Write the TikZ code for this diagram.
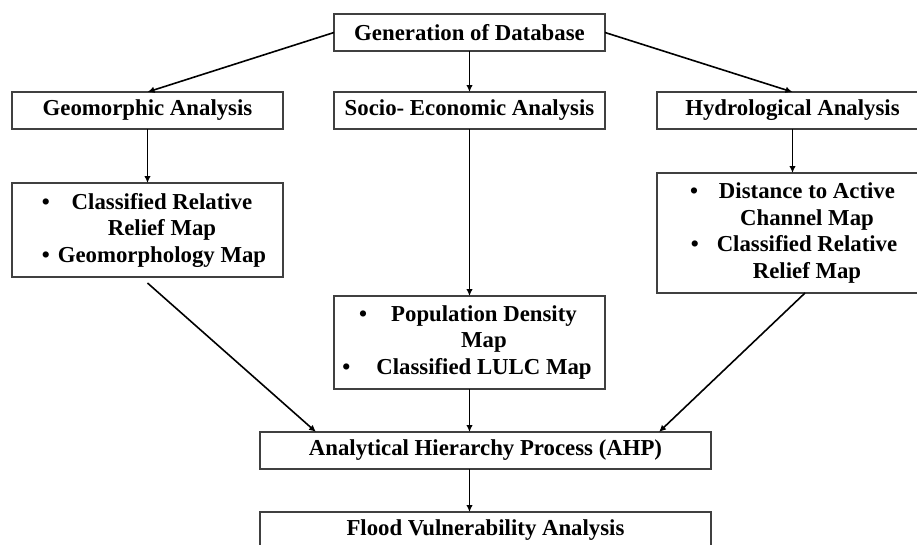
\documentclass[tikz,border=0pt]{standalone}
\usepackage{fontspec}
\setmainfont{Liberation Serif}
\usepackage{tikz}
\usetikzlibrary{positioning,arrows.meta,calc}

% bullet line: bullet hangs left of the text, gap as option
\newlength{\listshift}
\setlength{\listshift}{29pt}
\newcommand{\blitem}[2][22pt]{\hspace*{\listshift}\llap{\textbullet\hspace{#1}}#2}
\newcommand{\ctitem}[1]{\hspace*{\listshift}#1}

\begin{document}
\begin{tikzpicture}[
    node distance=40pt,
    box/.style={rectangle, draw=black!75, line width=1.6pt, outer sep=0pt, minimum width=271pt, minimum height=37pt, inner sep=0pt, align=flush center, font=\fontsize{22.8}{26.5}\selectfont\bfseries},
    listbox/.style={box, text width=271pt},
    arrow/.style={-{Latex[length=7pt,width=6.5pt]}, line width=1.6pt}
]

\useasboundingbox (-469.5pt,32.5pt) rectangle (447.5pt,-511.5pt);

% Top level
\node[box] (gen) at (0,0) {Generation of Database};

% Analysis row
\node[box, below=41pt of gen] (socio) {Socio- Economic Analysis};
\node[box, left=51pt of socio] (geo) {Geomorphic Analysis};
\node[box, right=52pt of socio] (hydro) {Hydrological Analysis};

% Map lists
\node[listbox, below=54pt of geo, minimum height=94pt] (geolist) {
    \blitem{Classified Relative} \\
    \ctitem{Relief Map} \\
    \blitem[8pt]{Geomorphology Map}
};
\node[listbox, below=44pt of hydro, minimum height=120pt] (hydrolist) {
    \blitem[21pt]{Distance to Active} \\
    \ctitem{Channel Map} \\
    \blitem[18pt]{Classified Relative} \\
    \ctitem{Relief Map}
};
\node[listbox, below=167pt of socio, minimum height=93pt] (pop) {
    \blitem[24pt]{Population Density} \\
    \ctitem{Map} \\
    \blitem[26pt]{Classified LULC Map}
};

% Weighting and result
\node[box, below=43pt of pop, xshift=16pt, minimum width=451pt] (ahp) {Analytical Hierarchy Process (AHP)};
\node[box, below=43pt of ahp, minimum width=451pt] (flood) {Flood Vulnerability Analysis};

% Connectors
\draw[arrow] (gen.west) -- (geo.north);
\draw[arrow] (gen.south) -- (socio.north);
\draw[arrow] (gen.east) -- (hydro.north);

\draw[arrow] (geo.south) -- (geolist.north);
\draw[arrow] (socio.south) -- (pop.north);
\draw[arrow] (hydro.south) -- (hydrolist.north);

\coordinate (geoout) at ($(geolist.south)+(0,-6pt)$);
\coordinate (hydout) at ($(hydrolist.south)+(12.5pt,0)$);
\coordinate (ahpin1) at ($(ahp.north west)+(56pt,0)$);
\coordinate (ahpin2) at ($(ahp.north east)+(-52pt,0)$);
\draw[arrow] (geoout) -- (ahpin1);
\draw[arrow] (hydout) -- (ahpin2);
\draw[arrow] (pop.south) -- (pop.south |- ahp.north);
\draw[arrow] (ahp.south -| pop.south) -- (flood.north -| pop.south);

\end{tikzpicture}
\end{document}
